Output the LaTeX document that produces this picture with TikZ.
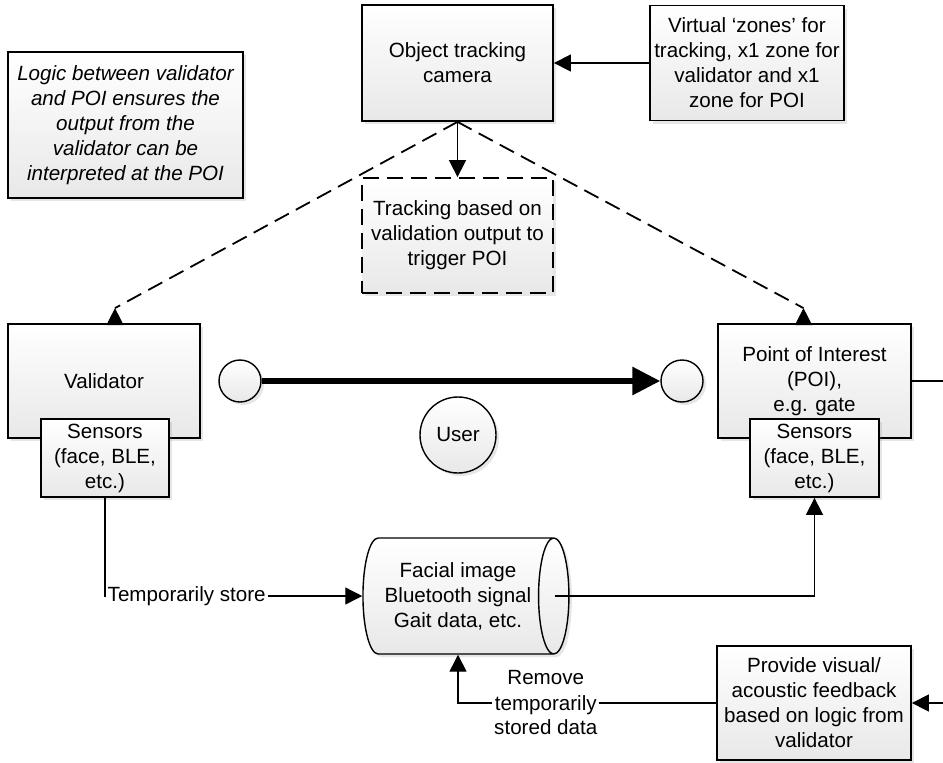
\documentclass[tikz,border=0pt]{standalone}
\usepackage{fontspec}
\setmainfont{Liberation Sans}
\usetikzlibrary{arrows.meta,shapes.geometric,shadows}
\newcommand{\diagfont}{\fontsize{10.3}{12.5}\selectfont}

\begin{document}
\begin{tikzpicture}[x=0.5pt,y=-0.5pt,line width=0.7pt,font=\diagfont,
	>={Triangle[length=8.5pt,width=8.5pt]},
	paper/.style={top color=white,bottom color=black!9,
		drop shadow={opacity=0.2,shadow xshift=1.5pt,shadow yshift=-1.5pt}},
	box/.style={draw,line width=0.9pt,paper,inner sep=0pt,align=center},
	longdash/.style={line width=0.9pt,dash pattern=on 8pt off 4pt},
	endpt/.style={draw,circle,paper,inner sep=0pt,minimum size=21pt},
	lbl/.style={fill=white,inner sep=1pt,align=center}]
	\useasboundingbox (0,0) rectangle (943,762);

	% top row
	\node[box,minimum width=117.5pt,minimum height=73pt,font=\diagfont\itshape] (logic) at (125.5,125)
		{Logic between validator\\and POI ensures the\\output from the\\validator can be\\interpreted at the POI};
	\node[box,minimum width=95.5pt,minimum height=58pt] (cam) at (457.5,63) {Object tracking\\camera};
	\node[box,minimum width=97pt,minimum height=57.5pt] (zones) at (747,63)
		{Virtual ‘zones’ for\\tracking, x1 zone for\\validator and x1\\zone for POI};
	\node[box,longdash,minimum width=95.5pt,minimum height=57.5pt] (track) at (457.5,235.5)
		{Tracking based on\\validation output to\\trigger POI};

	% validator and point of interest
	\node[box,minimum width=96pt,minimum height=57pt] (valid) at (104,381) {Validator};
	\node[box,minimum width=64pt,minimum height=39pt] (vsens) at (105,458) {Sensors\\(face, BLE,\\etc.)};
	\node[box,minimum width=96.5pt,minimum height=57pt] (poi) at (814.5,381) {Point of Interest\\(POI),\\e.g. gate};
	\node[box,minimum width=64.5pt,minimum height=39pt] (psens) at (814.5,458) {Sensors\\(face, BLE,\\etc.)};

	\foreach \n/\x in {vin/240,vout/682}
		\node[endpt] (\n) at (\x,381) {};
	\node[endpt,minimum size=38pt] (user) at (458,435) {User};

	% data store and feedback
	\node[cylinder,draw,paper,aspect=0.45,inner sep=0pt,align=center,
		minimum width=58pt,minimum height=103pt] (store) at (458,596)
		{Facial image\\Bluetooth signal\\Gait data, etc.};
	\node[box,minimum width=97pt,minimum height=57pt] (fb) at (814,703)
		{Provide visual/\\acoustic feedback\\based on logic from\\validator};

	\coordinate (vtip) at ([xshift=5.5pt,yshift=7.5pt]valid.north);
	\coordinate (ptip) at ([xshift=-5.5pt,yshift=7.5pt]poi.north);

	\draw[->] (zones.west) -- (cam.east);
	\draw[->] (cam) -- (track);
	\draw[longdash] (cam.south) -- (vtip);
	\draw[longdash] (cam.south) -- (ptip);
	\draw[->] (valid.north -| vtip) -- (vtip);
	\draw[->] (poi.north -| ptip) -- (ptip);
	\draw[line width=3pt,-{Triangle[length=14pt,width=13.5pt]}] (vin) -- (vout);

	\draw[->] (vsens.south) |- node[lbl,pos=0.5,anchor=west] (lstore) {Temporarily store} (store.west);
	\draw[->] ([xshift=-7.5pt]store.east) -| (psens.south);
	\draw[->] (fb.west) -| node[lbl,pos=0.33] (lremove) {Remove\\temporarily\\stored data} (store.south);
	\draw[->] (poi.east) -- ++(30pt,0) |- (fb.east);
\end{tikzpicture}
\end{document}
